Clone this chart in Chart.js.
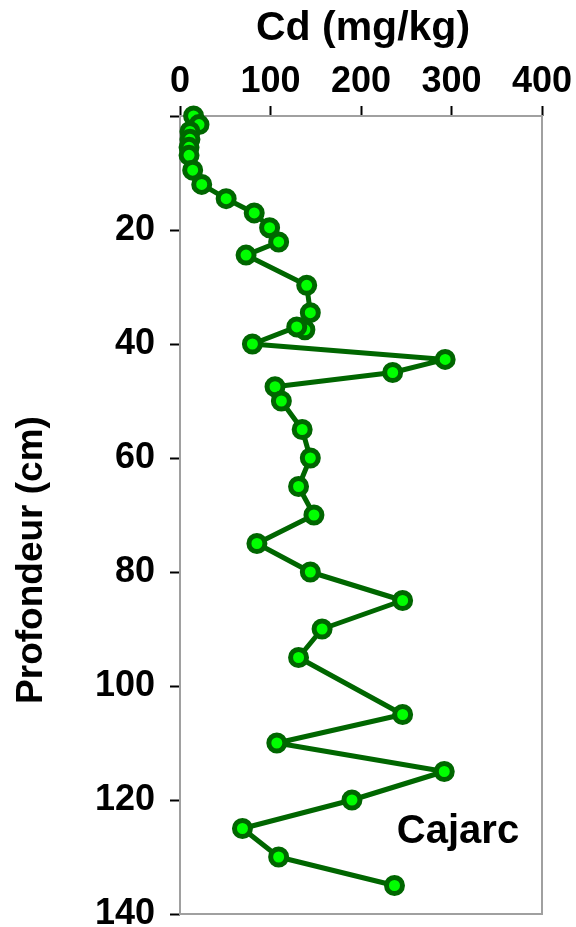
<!DOCTYPE html>
<html>
<head>
<meta charset="utf-8">
<script src="https://cdn.jsdelivr.net/npm/chart.js@4.4.0/dist/chart.umd.min.js"></script>
<style>
  html, body { margin: 0; padding: 0; background: #fff; }
  #wrap { width: 576px; height: 927px; position: relative; }
</style>
</head>
<body>
<div id="wrap"><canvas id="c"></canvas></div>
<script>
// Cd concentration (mg/kg) and depth (cm)
const cdValues = [15, 21, 11, 11, 10, 10, 14, 24, 51, 82, 99, 109, 73, 140, 144, 138, 129, 80, 293, 235, 105, 112, 135, 144, 131, 148, 85, 144, 246, 157, 131, 246, 107, 292, 190, 69, 109, 237];
const depthValues = [0, 1.5, 2.7, 4.1, 5.5, 6.9, 9.5, 12, 14.5, 17, 19.6, 22.1, 24.4, 29.7, 34.5, 37.5, 37, 40, 42.7, 45, 47.5, 50, 55, 60, 65, 70, 75, 80, 85, 90, 95, 105, 110, 115, 120, 125, 130, 135];
const xTicks = [0, 100, 200, 300, 400];
const yTicks = [0, 20, 40, 60, 80, 100, 120, 140];
const xTitle = 'Cd (mg/kg)';
const yTitle = 'Profondeur (cm)';
const siteLabel = 'Cajarc';

const FONT = '"Liberation Sans", Arial, sans-serif';

const points = cdValues.map((v, i) => ({ x: v, y: depthValues[i] }));

const frame = {
  id: 'frame',
  beforeDatasetsDraw(chart) {
    const a = chart.chartArea, ctx = chart.ctx;
    ctx.save();
    ctx.strokeStyle = '#a0a0a0';
    ctx.lineWidth = 2;
    ctx.strokeRect(a.left, a.top, a.right - a.left, a.bottom - a.top);
    ctx.restore();
  },
  afterDraw(chart) {
    const ctx = chart.ctx, a = chart.chartArea;
    ctx.save();
    ctx.fillStyle = '#000';
    ctx.font = 'bold 41px ' + FONT;
    ctx.textAlign = 'center';
    ctx.textBaseline = 'alphabetic';
    ctx.fillText(xTitle, (a.left + a.right) / 2 + 2, 40);
    ctx.font = 'bold 40px ' + FONT;
    ctx.fillText(siteLabel, 458, 843);
    ctx.translate(42, 560);
    ctx.rotate(-Math.PI / 2);
    ctx.font = 'bold 37px ' + FONT;
    ctx.fillText(yTitle, 0, 0);
    ctx.restore();
  }
};

new Chart(document.getElementById('c'), {
  type: 'scatter',
  data: {
    datasets: [{
      data: points,
      showLine: true,
      borderColor: '#006600',
      borderWidth: 5,
      borderJoinStyle: 'round',
      borderCapStyle: 'round',
      pointRadius: 8,
      pointHoverRadius: 8,
      pointBorderWidth: 5,
      pointBorderColor: '#006600',
      pointBackgroundColor: '#00ff00',
      clip: false
    }]
  },
  plugins: [frame],
  options: {
    responsive: true,
    maintainAspectRatio: false,
    animation: false,
    events: [],
    layout: { padding: { left: 0, right: 34, top: 0, bottom: 13 } },
    plugins: { legend: { display: false }, tooltip: { enabled: false } },
    scales: {
      x: {
        type: 'linear',
        position: 'top',
        min: 0, max: 400,
        afterBuildTicks: s => { s.ticks = xTicks.map(v => ({ value: v })); },
        afterFit: s => { s.height = 116; },
        ticks: { color: '#000', padding: 2, font: { family: FONT, size: 36, weight: 'bold' } },
        grid: { drawOnChartArea: false, drawTicks: true, tickLength: 10, tickColor: '#000', tickWidth: 2 },
        border: { display: false }
      },
      y: {
        type: 'linear',
        position: 'left',
        reverse: true,
        min: 0, max: 140,
        afterBuildTicks: s => { s.ticks = yTicks.map(v => ({ value: v })); },
        afterFit: s => { s.width = 180; s.paddingTop = 0; s.paddingBottom = 0; },
        ticks: {
          color: '#000', padding: 15,
          font: { family: FONT, size: 36, weight: 'bold' },
          callback: v => (v === 0 ? '' : String(v))
        },
        grid: { drawOnChartArea: false, drawTicks: true, tickLength: 10, tickColor: '#000', tickWidth: 2 },
        border: { display: false }
      }
    }
  }
});
</script>
</body>
</html>
